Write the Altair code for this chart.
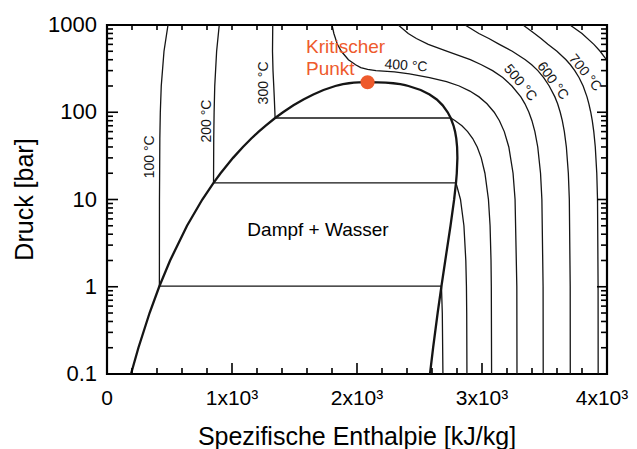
import altair as alt
import pandas as pd

# ---------------- data ----------------
# saturation line: pressure [bar], liquid / vapour enthalpy [kJ/kg]
P_SAT = [0.1, 0.2, 0.5, 1, 2, 5, 10, 15.54, 20, 30, 40, 50, 60, 70, 85.88,
         100, 120, 140, 160, 180, 200, 205, 210, 215, 218, 220, 220.64]
H_LIQ = [191.8, 251.4, 340.5, 417.4, 504.7, 640.1, 762.5, 852.3, 908.5, 1008.3,
         1087.4, 1154.5, 1213.7, 1267.4, 1344.8, 1408.1, 1491.5, 1571.5, 1650.4,
         1732.0, 1826.6, 1855, 1888, 1935, 1975, 2015, 2084.3]
H_VAP = [2583.9, 2608.9, 2645.2, 2674.9, 2706.2, 2748.1, 2777.1, 2792.0, 2798.3,
         2803.2, 2800.8, 2794.2, 2784.6, 2772.6, 2749.6, 2725.5, 2685.4, 2638.1,
         2580.8, 2509.5, 2411.4, 2385, 2346, 2290, 2230, 2165, 2084.3]

# isotherms
T100_P = [1000, 500, 200, 100, 50, 10, 1.014, 1.014, 0.5, 0.1]
T100_H = [488, 456, 434, 426.5, 422.7, 419.7, 419.1, 2675.6, 2682.4, 2687.5]

T200_P = [1000, 500, 200, 100, 50, 15.54, 15.54, 10, 5, 2, 1, 0.5, 0.1]
T200_H = [898, 877, 862, 856.9, 853.9, 852.3, 2792.0, 2827.9, 2855.4, 2870.5,
          2875.5, 2877.7, 2879.5]

T300_P = [1000, 500, 300, 200, 150, 100, 85.88, 85.88, 80, 70, 60, 50, 40, 30,
          20, 10, 5, 2, 1, 0.1]
T300_H = [1326, 1324, 1328, 1334, 1338, 1343, 1344.8, 2749.6, 2785.6, 2839.4,
          2885.0, 2925.6, 2961.7, 2993.9, 3023.5, 3051.6, 3064.6, 3072.1, 3074.5,
          3076.7]

T400_P = [1000, 800, 600, 500, 400, 350, 325, 310, 300, 290, 275, 250, 225, 200,
          175, 150, 125, 100, 80, 60, 40, 20, 10, 1, 0.1]
T400_H = [1800, 1815, 1843.2, 1874.4, 1931.4, 1988.6, 2030, 2085, 2151.6, 2300,
          2420, 2580.2, 2716, 2818.1, 2902.8, 2976.2, 3040.0, 3097.5, 3139.4,
          3178.3, 3214.5, 3248.4, 3264.5, 3278.6, 3279.9]

T500_P = [1000, 800, 700, 600, 500, 400, 350, 300, 250, 200, 150, 125, 100, 80,
          60, 40, 20, 10, 1, 0.1]
T500_H = [2330, 2410, 2475, 2570.3, 2722.5, 2906.5, 2995.1, 3084.8, 3166.1,
          3239.3, 3310.8, 3343.6, 3375.1, 3399.5, 3423.1, 3446.0, 3468.3, 3479.1,
          3488.7, 3489.7]

T600_P = [1000, 800, 700, 600, 500, 400, 350, 300, 250, 200, 150, 125, 100, 80,
          60, 40, 20, 10, 1, 0.1]
T600_H = [2864, 2975, 3055, 3138.8, 3242.0, 3346.5, 3397.5, 3446.8, 3493.5,
          3537.6, 3583.1, 3605.0, 3625.8, 3642.4, 3658.8, 3674.9, 3690.7, 3698.6,
          3705.6, 3706.3]

T700_P = [1000, 800, 700, 600, 500, 400, 350, 300, 250, 200, 150, 125, 100, 80,
          60, 40, 20, 10, 1, 0.1]
T700_H = [3328, 3420, 3472, 3527.0, 3599.7, 3672.0, 3707.3, 3742.1, 3776.0,
          3809.1, 3840.0, 3855.0, 3870.0, 3882.2, 3894.3, 3906.3, 3918.2, 3924.1,
          3928.7, 3929.4]

T800_P = [1000, 800, 600, 500, 400, 300]
T800_H = [3704, 3800, 3895, 3945, 3995, 4060]

# isotherm labels
LABEL_TEXT = ["100 °C", "200 °C", "300 °C", "400 °C", "500 °C", "600 °C", "700 °C"]
LABEL_H = [344, 800, 1256, 2392, 3304, 3564, 3824]
LABEL_P = [30.8, 79.4, 217, 339, 217, 228, 282]
LABEL_ANGLE = [270, 270, 270, 4, 50, 54, 51]

# critical point
CRIT_H = [2084.3]
CRIT_P = [220.64]
CRIT_TEXT = ["Kritischer\nPunkt"]
CRIT_TEXT_H = [1592]
CRIT_TEXT_P = [480]

REGION_TEXT = ["Dampf + Wasser"]
REGION_H = [1688]
REGION_P = [3.83]

# axes
X_DOMAIN = [0, 4000]
Y_DOMAIN = [0.1, 1000]
X_LABELS = [0, 1000, 2000, 3000]
X_LABEL_TEXT = ["0", "1x10³", "2x10³", "3x10³"]
X_LAST_LABEL = [4000]
X_LAST_TEXT = ["4x10³"]
Y_LABELS = [0.1, 1, 10, 100, 1000]
Y_LABEL_TEXT = ["0.1", "1", "10", "100", "1000"]
X_TITLE = "Spezifische Enthalpie [kJ/kg]"
Y_TITLE = "Druck [bar]"
X_MAJOR = [1000, 2000, 3000]
X_MINOR = [200, 400, 600, 800, 1200, 1400, 1600, 1800, 2200, 2400, 2600, 2800,
           3200, 3400, 3600, 3800]
Y_MAJOR = [1, 10, 100]
Y_MINOR = [0.2, 0.3, 0.4, 0.5, 0.6, 0.7, 0.8, 0.9,
           2, 3, 4, 5, 6, 7, 8, 9,
           20, 30, 40, 50, 60, 70, 80, 90,
           200, 300, 400, 500, 600, 700, 800, 900]

# ---------------- tables ----------------
iso_rows = []
for name, ps, hs in [("100", T100_P, T100_H), ("200", T200_P, T200_H),
                     ("300", T300_P, T300_H), ("400", T400_P, T400_H),
                     ("500", T500_P, T500_H), ("600", T600_P, T600_H),
                     ("700", T700_P, T700_H), ("800", T800_P, T800_H)]:
    for i, (p, h) in enumerate(zip(ps, hs)):
        iso_rows.append({"T": name, "i": i, "p": p, "h": h})
iso_df = pd.DataFrame(iso_rows)

dome_p = P_SAT + P_SAT[-2::-1]
dome_h = H_LIQ + H_VAP[-2::-1]
dome_df = pd.DataFrame({"i": list(range(len(dome_p))), "p": dome_p, "h": dome_h})

lab_df = pd.DataFrame({"t": LABEL_TEXT, "h": LABEL_H, "p": LABEL_P, "a": LABEL_ANGLE})
crit_df = pd.DataFrame({"h": CRIT_H, "p": CRIT_P})
crit_txt_df = pd.DataFrame({"t": CRIT_TEXT, "h": CRIT_TEXT_H, "p": CRIT_TEXT_P})
region_df = pd.DataFrame({"t": REGION_TEXT, "h": REGION_H, "p": REGION_P})

xlab_df = pd.DataFrame({"t": X_LABEL_TEXT, "h": X_LABELS, "p": [Y_DOMAIN[0]] * len(X_LABELS)})
xlast_df = pd.DataFrame({"t": X_LAST_TEXT, "h": X_LAST_LABEL, "p": [Y_DOMAIN[0]]})
ylab_df = pd.DataFrame({"t": Y_LABEL_TEXT, "h": [X_DOMAIN[0]] * len(Y_LABELS), "p": Y_LABELS})
xtitle_df = pd.DataFrame({"t": [X_TITLE], "h": [sum(X_DOMAIN) / 2], "p": [Y_DOMAIN[0]]})
ytitle_df = pd.DataFrame({"t": [Y_TITLE], "h": [X_DOMAIN[0]],
                          "p": [(Y_DOMAIN[0] * Y_DOMAIN[1]) ** 0.5]})

FONT = "Liberation Sans"
INK = "#000000"
ORANGE = "#ee5a2c"

xs = alt.Scale(domain=X_DOMAIN, nice=False, zero=False)
ys = alt.Scale(type="log", domain=Y_DOMAIN, nice=False)
X = alt.X("h:Q", scale=xs, axis=None)
Y = alt.Y("p:Q", scale=ys, axis=None)

iso = alt.Chart(iso_df).mark_line(clip=True, strokeWidth=1.3, color="#151515").encode(
    x=X, y=Y, detail="T:N", order="i:Q")
dome = alt.Chart(dome_df).mark_line(clip=True, strokeWidth=2.3, color="#151515").encode(
    x=X, y=Y, order="i:Q")

labels = alt.Chart(lab_df).mark_text(
    font=FONT, fontSize=14, color="#151515", align="center", baseline="middle").encode(
    x=X, y=Y, text="t:N", angle=alt.Angle("a:Q", scale=None))

crit = alt.Chart(crit_df).mark_circle(size=200, color=ORANGE, opacity=1).encode(x=X, y=Y)
crit_txt = alt.Chart(crit_txt_df).mark_text(
    font=FONT, fontSize=19, color=ORANGE, align="left", baseline="alphabetic",
    lineBreak="\n", lineHeight=22).encode(x=X, y=Y, text="t:N")
region = alt.Chart(region_df).mark_text(
    font=FONT, fontSize=19, color="black", align="center",
    baseline="alphabetic").encode(x=X, y=Y, text="t:N")

# tick labels and axis titles
xlab = alt.Chart(xlab_df).mark_text(
    font=FONT, fontSize=21, color="black", align="center", baseline="top",
    dy=14).encode(x=X, y=Y, text="t:N")
xlast = alt.Chart(xlast_df).mark_text(
    font=FONT, fontSize=21, color="black", align="center", baseline="top",
    dy=14, dx=-5).encode(x=X, y=Y, text="t:N")
ylab = alt.Chart(ylab_df).mark_text(
    font=FONT, fontSize=22, color="black", align="right", baseline="middle",
    dx=-10).encode(x=X, y=Y, text="t:N")
xtitle = alt.Chart(xtitle_df).mark_text(
    font=FONT, fontSize=25, color="black", align="center", baseline="alphabetic",
    dy=71).encode(x=X, y=Y, text="t:N")
ytitle = alt.Chart(ytitle_df).mark_text(
    font=FONT, fontSize=25, color="black", align="center", baseline="alphabetic",
    angle=270, dy=-74).encode(x=X, y=Y, text="t:N")


def rule_ticks(vals, fixed, length, side):
    """Inward tick marks drawn as short rules from an edge of the frame."""
    if side in ("b", "t"):
        df = pd.DataFrame({"h": vals, "p": [fixed] * len(vals)})
        off = {"y2Offset": -length if side == "b" else length}
        enc = dict(x=X, y=Y, y2=alt.Y2("p"))
    else:
        df = pd.DataFrame({"p": vals, "h": [fixed] * len(vals)})
        off = {"x2Offset": length if side == "l" else -length}
        enc = dict(x=X, x2=alt.X2("h"), y=Y)
    return alt.Chart(df).mark_rule(strokeWidth=1.6, color=INK, opacity=1,
                                   **off).encode(**enc)


tick_layers = [
    rule_ticks(X_MAJOR, Y_DOMAIN[0], 11, "b"),
    rule_ticks(X_MINOR, Y_DOMAIN[0], 6, "b"),
    rule_ticks(X_MAJOR + X_MINOR, Y_DOMAIN[1], 5, "t"),
    rule_ticks(Y_MAJOR, X_DOMAIN[0], 11, "l"),
    rule_ticks(Y_MINOR, X_DOMAIN[0], 6, "l"),
    rule_ticks(Y_MAJOR, X_DOMAIN[1], 10, "r"),
    rule_ticks(Y_MINOR, X_DOMAIN[1], 6, "r"),
]

chart = alt.layer(iso, dome, labels, crit_txt, crit, region, *tick_layers,
                  xlab, xlast, ylab, xtitle, ytitle).properties(
    width=500, height=349,
    autosize=alt.AutoSizeParams(type="none"),
    padding={"left": 99, "top": 17, "right": 22, "bottom": 75},
).configure_view(stroke=INK, strokeWidth=2.2)

chart.save("out.html", embed_options={"renderer": "svg", "actions": False})
